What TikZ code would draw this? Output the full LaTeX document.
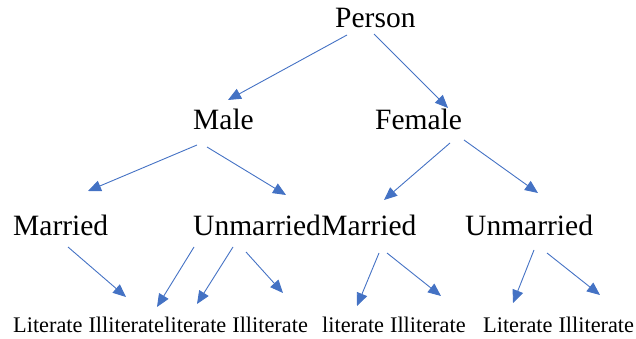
\documentclass[tikz,border=0pt]{standalone}
\usepackage{fontspec}
\setmainfont{Liberation Serif}
\usetikzlibrary{arrows.meta}
\definecolor{arrowblue}{HTML}{4472C4}
\tikzset{
  big/.style={inner sep=0pt, anchor=base west, font=\fontsize{29.5}{32}\selectfont},
  small/.style={inner sep=0pt, anchor=base west, font=\fontsize{22.3}{24}\selectfont},
  conn/.style={draw=arrowblue, line width=0.9pt, -{Triangle[length=13pt,width=11pt]}, arrowblue}
}
\begin{document}
\begin{tikzpicture}[x=1pt,y=-1pt]
\useasboundingbox (0,0) rectangle (636,339);
% labels
\node[big] (person) at (335,27.5) {Person};
\node[big] (male) at (193,130) {Male};
\node[big] (female) at (375,130) {Female};
\node[big] (lmarried) at (13,235) {Married};
\node[big] (lunmarried) at (193,235) {Unmarried};
\node[big] (rmarried) at (lunmarried.base east) {Married};
\node[big] (runmarried) at (465,235) {Unmarried};
\node[small] (l1) at (13,332.5) {Literate};
\node[small] (l2) at ([xshift=5.6pt]l1.base east) {Illiterate};
\node[small] (l3) at (l2.base east) {literate};
\node[small] (l4) at ([xshift=5.6pt]l3.base east) {Illiterate};
\node[small] (m1) at (322,332.5) {literate};
\node[small] (m2) at ([xshift=5.6pt]m1.base east) {Illiterate};
\node[small] (r1) at (483,332.5) {Literate};
\node[small] (r2) at ([xshift=5.6pt]r1.base east) {Illiterate};
% connector ends
\coordinate (a1s) at (347,35);  \coordinate (a1e) at (228,100);
\coordinate (a2s) at (374,34);  \coordinate (a2e) at (448,108);
\coordinate (a3s) at (197,145); \coordinate (a3e) at (88,191);
\coordinate (a4s) at (207,147); \coordinate (a4e) at (286,195);
\coordinate (a5s) at (450,143); \coordinate (a5e) at (384,200);
\coordinate (a6s) at (464,140); \coordinate (a6e) at (538,193);
\coordinate (b1s) at (68,247);  \coordinate (b1e) at (126,297);
\coordinate (b2s) at (194,247); \coordinate (b2e) at (157,307);
\coordinate (b3s) at (233,247); \coordinate (b3e) at (197,304);
\coordinate (b4s) at (246,252); \coordinate (b4e) at (283,293);
\coordinate (b5s) at (379,253); \coordinate (b5e) at (357,306);
\coordinate (b6s) at (387,253); \coordinate (b6e) at (441,296);
\coordinate (b7s) at (534,250); \coordinate (b7e) at (513,303);
\coordinate (b8s) at (547,253); \coordinate (b8e) at (600,295);
\foreach \c in {a1,a2,a3,a4,a5,a6,b1,b2,b3,b4,b5,b6,b7,b8}
  \draw[conn] (\c s) -- (\c e);
\end{tikzpicture}
\end{document}
